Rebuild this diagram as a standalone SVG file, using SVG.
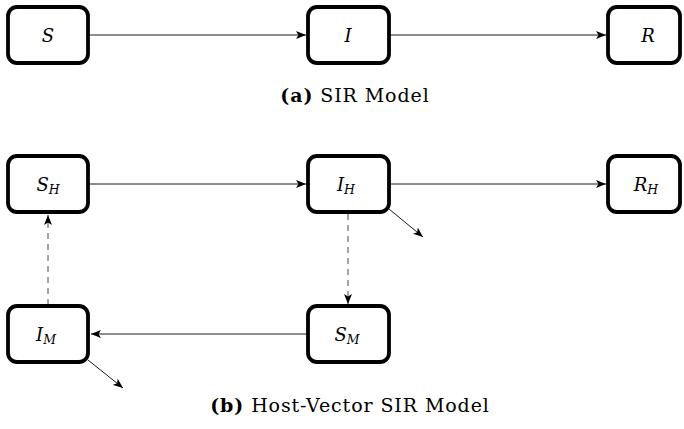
<svg xmlns="http://www.w3.org/2000/svg" width="684" height="429" viewBox="0 0 684 429">
  <style>
    .box { fill: #fff; stroke: #000; stroke-width: 3.8; }
    .lbl { font-family: "DejaVu Serif", serif; font-style: italic; font-size: 18px; text-anchor: middle; }
    .sub { font-size: 12.5px; }
    .edge { fill: none; stroke: #000; stroke-width: 0.9; marker-end: url(#arr); }
    .dash { stroke: #333; stroke-dasharray: 6 5; }
    .cap { font-family: "DejaVu Serif", serif; font-size: 19px; text-anchor: middle; letter-spacing: 0.9px; }
    .capb { font-weight: bold; }
  </style>
  <defs>
    <marker id="arr" viewBox="0 0 10 8" refX="10" refY="4" markerWidth="10" markerHeight="8" markerUnits="userSpaceOnUse" orient="auto">
      <path d="M0,0 L10,4 L0,8 L2.5,4 Z" fill="#000"/>
    </marker>
  </defs>

  <g id="connectors">
    <line class="edge" x1="89" y1="35" x2="306" y2="35"/>
    <line class="edge" x1="390" y1="35" x2="606" y2="35"/>
    <line class="edge" x1="89" y1="184" x2="306" y2="184"/>
    <line class="edge" x1="390" y1="184" x2="606" y2="184"/>
    <line class="edge" x1="389" y1="209" x2="423" y2="237"/>
    <line class="edge dash" x1="348" y1="214" x2="348" y2="304"/>
    <line class="edge" x1="306" y1="334" x2="91" y2="334"/>
    <line class="edge dash" x1="48" y1="305" x2="48" y2="215"/>
    <line class="edge" x1="88" y1="360" x2="123" y2="388"/>
  </g>

  <g id="S"><rect class="box" x="8" y="7" width="80" height="56" rx="9"/><text class="lbl" x="48" y="42">S</text></g>
  <g id="I"><rect class="box" x="308" y="7" width="81" height="56" rx="9"/><text class="lbl" x="348" y="42">I</text></g>
  <g id="R"><rect class="box" x="608" y="7" width="72" height="56" rx="9"/><text class="lbl" x="648" y="42">R</text></g>

  <text class="cap" x="355" y="102"><tspan class="capb">(a)</tspan> SIR Model</text>

  <g id="SH"><rect class="box" x="8" y="156" width="80" height="56" rx="9"/><text class="lbl" x="48" y="191">S<tspan class="sub" dy="2.5">H</tspan></text></g>
  <g id="IH"><rect class="box" x="308" y="156" width="81" height="56" rx="9"/><text class="lbl" x="346" y="191">I<tspan class="sub" dy="2.5">H</tspan></text></g>
  <g id="RH"><rect class="box" x="608" y="156" width="72" height="56" rx="9"/><text class="lbl" x="646" y="191">R<tspan class="sub" dy="2.5">H</tspan></text></g>
  <g id="IM"><rect class="box" x="8" y="306" width="80" height="56" rx="9"/><text class="lbl" x="46" y="341">I<tspan class="sub" dy="2.5">M</tspan></text></g>
  <g id="SM"><rect class="box" x="308" y="306" width="81" height="56" rx="9"/><text class="lbl" x="347" y="341">S<tspan class="sub" dy="2.5">M</tspan></text></g>

  <text class="cap" x="350" y="412"><tspan class="capb">(b)</tspan> Host-Vector SIR Model</text>
</svg>
